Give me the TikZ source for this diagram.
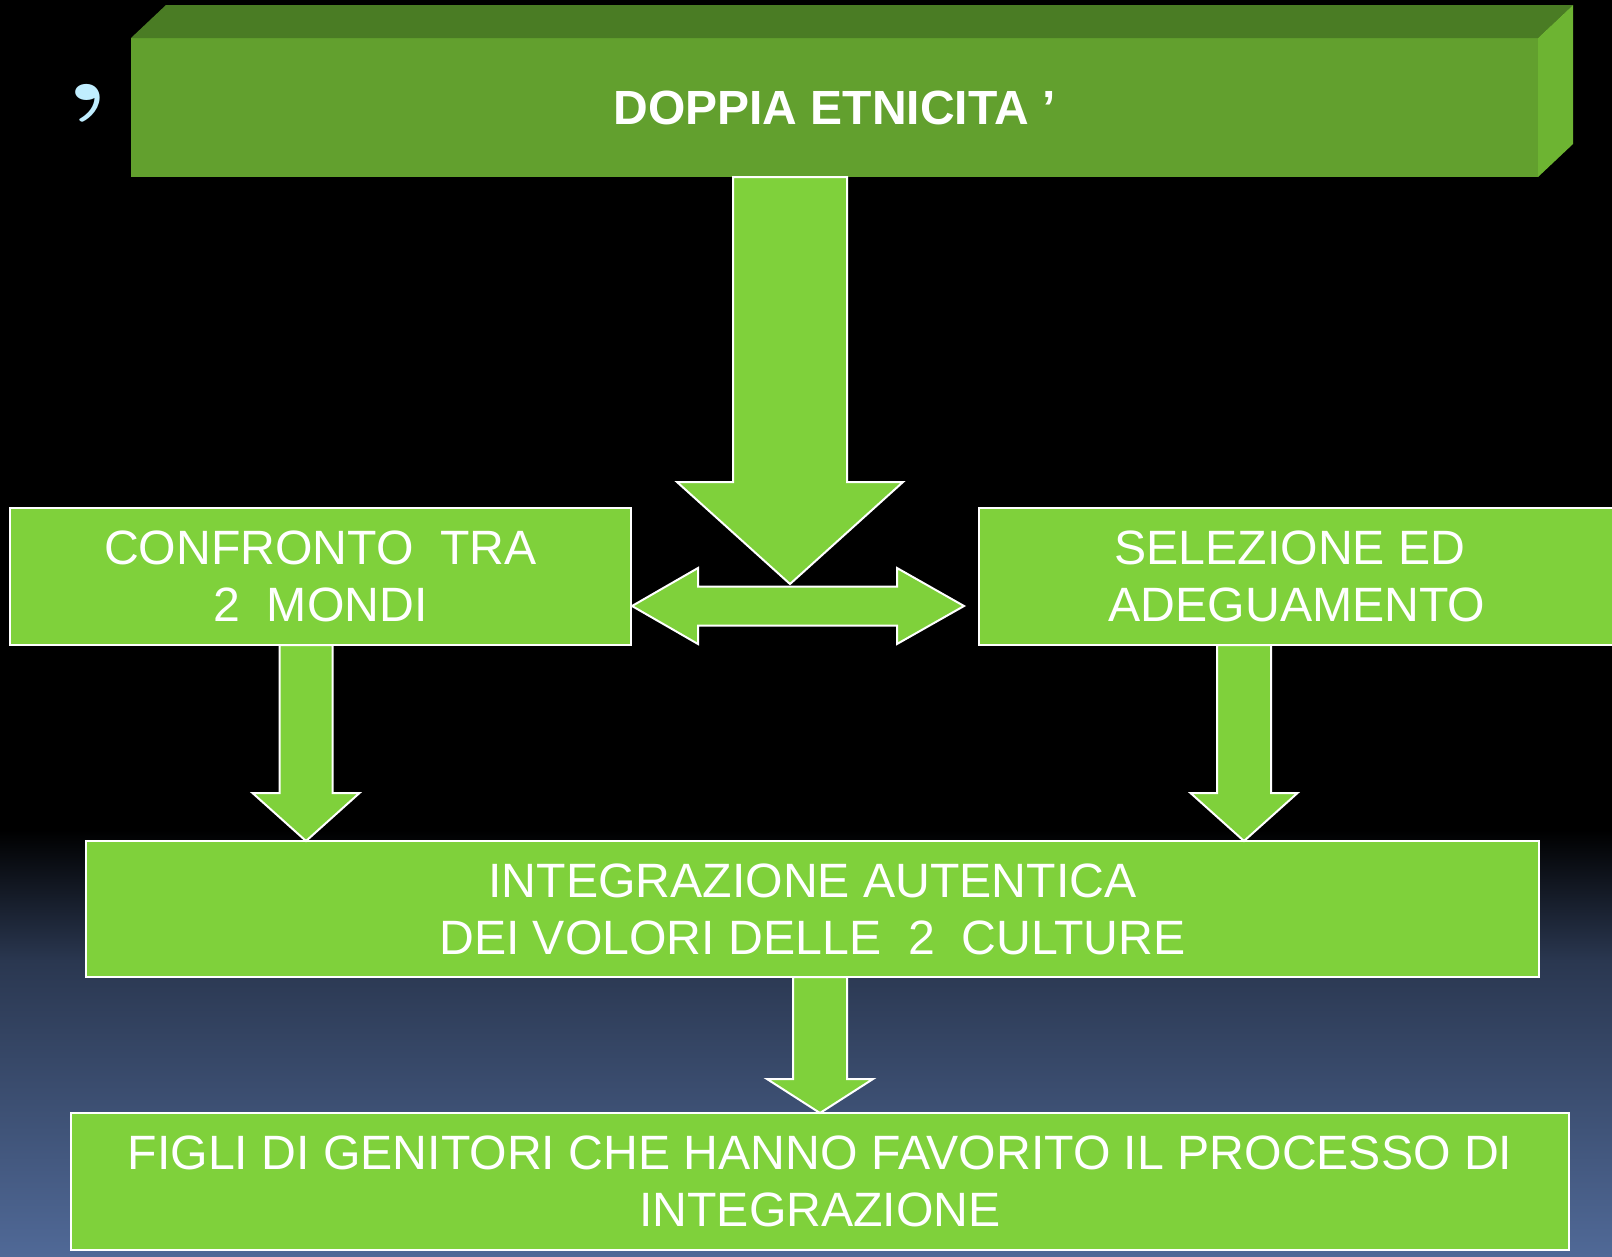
\documentclass[tikz,border=0pt]{standalone}
\usepackage{fontspec}
\newfontfamily\arialfont{Liberation Sans}
\usetikzlibrary{calc}
\definecolor{boxgreen}{HTML}{7FD13B}
\definecolor{frontgreen}{HTML}{62A02E}
\definecolor{topgreen}{HTML}{4A7C24}
\definecolor{sidegreen}{HTML}{6DB432}
\definecolor{bgblue}{HTML}{506997}
\definecolor{midblue}{HTML}{2A3750}
\definecolor{commablue}{HTML}{C0EEFF}
\newcommand\downblock[5]{%
  \draw[blockarrow] let \p1=(#1), \p2=(#2) in
    (\x1-#3pt,\y1) -- (\x1-#3pt,\y2+#5pt) -- (\x1-#4pt,\y2+#5pt) -- (\x2,\y2)
    -- (\x1+#4pt,\y2+#5pt) -- (\x1+#3pt,\y2+#5pt) -- (\x1+#3pt,\y1) -- cycle;}
\begin{document}
\begin{tikzpicture}[x=1pt,y=-1pt,
  box/.style={rectangle, fill=boxgreen, draw=white, line width=2pt, inner sep=0pt,
    outer sep=0pt, align=center, text=white, font=\arialfont\fontsize{48.2}{57}\selectfont},
  blockarrow/.style={fill=boxgreen, draw=white, line width=2pt, line join=miter}]
\useasboundingbox (0,0) rectangle (1612,1256);
% background
\fill[black] (0,0) rectangle (1612,1256);
\shade[top color=black, bottom color=midblue] (0,830) rectangle (1612,961);
\shade[top color=midblue, bottom color=bgblue] (0,960) rectangle (1612,1256);
% title bar
\node[box, fill=frontgreen, draw=none, minimum width=1407pt, minimum height=139pt,
  font=\arialfont\fontsize{48}{56}\selectfont\bfseries] (title) at (834.5,107.5) {DOPPIA ETNICITA ’};
\fill[topgreen] (title.north west) -- ++(35,-33) -- ($(title.north east)+(35,-33)$) -- (title.north east) -- cycle;
\fill[sidegreen] (title.north east) -- ++(35,-33) -- ($(title.south east)+(35,-33)$) -- (title.south east) -- cycle;
% comma bullet
\node[text=commablue, font=\fontsize{112}{112}\selectfont\bfseries, inner sep=0pt, anchor=base, xscale=1.4] (bullet) at (87,100) {,};
% boxes
\node[box, minimum width=621pt, minimum height=137pt] (conf) at (320.5,576.5) {CONFRONTO~ TRA\\2~ MONDI};
\node[box, minimum width=636pt, minimum height=137pt] (sel) at (1297,576.5) {SELEZIONE ED\hspace*{0.29em}\\ADEGUAMENTO};
\node[box, minimum width=1453pt, minimum height=136pt] (integ) at (812.5,909) {INTEGRAZIONE AUTENTICA\\DEI VOLORI DELLE~ 2~ CULTURE};
\node[box, minimum width=1498pt, minimum height=137pt] (figli) at (820,1181.5) {FIGLI DI GENITORI CHE HANNO FAVORITO IL PROCESSO DI\\INTEGRAZIONE};
% arrows
\coordinate (ms) at ($(title.south)+(-44.5,0)$);
\coordinate (mt) at ($(title.south)+(-44.5,407)$);
\downblock{ms}{mt}{57}{113}{102}
\coordinate (dl) at ($(conf.south east)+(1,-39)$);
\coordinate (dr) at ($(sel.south west)+(-15,-39)$);
\draw[blockarrow] let \p1=(dl), \p2=(dr) in
  (\x1,\y1) -- (\x1+66pt,\y1+38pt) -- (\x1+66pt,\y1+19.5pt) -- (\x2-67pt,\y1+19.5pt)
  -- (\x2-67pt,\y1+38pt) -- (\x2,\y2) -- (\x2-67pt,\y1-38pt) -- (\x2-67pt,\y1-19.5pt)
  -- (\x1+66pt,\y1-19.5pt) -- (\x1+66pt,\y1-38pt) -- cycle;
\coordinate (ls) at ($(conf.south)+(-14.5,0)$);
\coordinate (lt) at (ls |- integ.north);
\downblock{ls}{lt}{26.5}{53.5}{48}
\coordinate (rs) at ($(sel.south)+(-53,0)$);
\coordinate (rt) at (rs |- integ.north);
\downblock{rs}{rt}{27}{53.5}{48}
\coordinate (bs) at ($(integ.south)+(7.5,0)$);
\coordinate (bt) at (bs |- figli.north);
\downblock{bs}{bt}{27}{53}{34}
\end{tikzpicture}
\end{document}
